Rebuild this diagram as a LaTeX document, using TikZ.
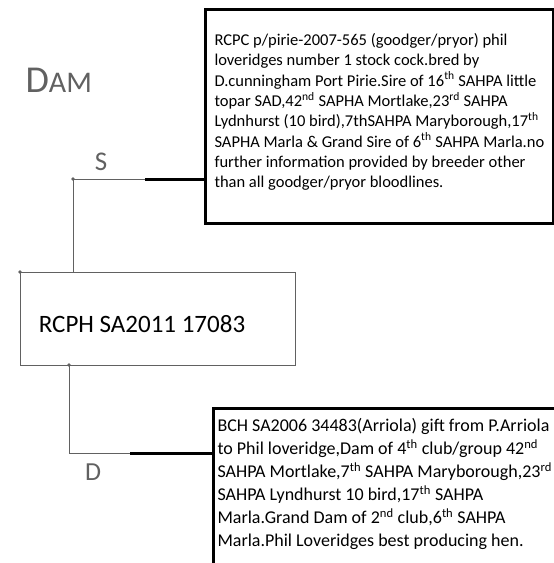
\documentclass[tikz,border=0pt]{standalone}
\usepackage{xcolor}
\usepackage{tikz}
\usepackage{fontspec}
\setmainfont{Carlito}

\definecolor{pencil}{gray}{0.38}

\tikzset{
  infobox/.style={draw, line width=3pt, anchor=north west, align=left, inner xsep=9pt},
  pencilline/.style={draw=pencil, line width=0.9pt},
  inkline/.style={draw=black, line width=3pt},
  hand/.style={text=pencil}
}

\begin{document}
\begin{tikzpicture}[x=1pt, y=-1pt]

% Marco de la pagina
\clip (0,0) rectangle (554,563);

% Titulo a mano
\node[hand, anchor=base west] (title) at (22,92) {{\fontsize{38}{38}\selectfont D}{\fontsize{30}{30}\selectfont AM}};

% Padre
\node[infobox, minimum width=347pt, inner ysep=24pt, text depth=12pt,
      font=\fontsize{16.5}{20.3}\selectfont] (sire) at (204,8)
  {RCPC p/pirie-2007-565 (goodger/pryor) phil\\
   loveridges number 1 stock cock.bred by\\
   D.cunningham Port Pirie.Sire of 16\textsuperscript{th} SAHPA little\\
   topar SAD,42\textsuperscript{nd} SAPHA Mortlake,23\textsuperscript{rd} SAHPA\\
   Lydnhurst (10 bird),7thSAHPA Maryborough,17\textsuperscript{th}\\
   SAPHA Marla \& Grand Sire of 6\textsuperscript{th} SAHPA Marla.no\\
   further information provided by breeder other\\
   than all goodger/pryor bloodlines.};

% Ave
\node[draw=pencil, line width=1pt, anchor=north west, minimum width=275pt, minimum height=93pt,
      text height=28pt, font=\fontsize{25}{30}\selectfont] (bird) at (20,272)
  {RCPH SA2011 17083\rule{32pt}{0pt}};

% Madre
\node[infobox, inner xsep=4pt, inner ysep=10pt, text depth=80pt,
      font=\fontsize{18}{23}\selectfont] (dam) at (212,407)
  {BCH SA2006 34483(Arriola) gift from P.Arriola\\
   to Phil loveridge,Dam of 4\textsuperscript{th} club/group 42\textsuperscript{nd}\\
   SAHPA Mortlake,7\textsuperscript{th} SAHPA Maryborough,23\textsuperscript{rd}\\
   SAHPA Lyndhurst 10 bird,17\textsuperscript{th} SAHPA\\
   Marla.Grand Dam of 2\textsuperscript{nd} club,6\textsuperscript{th} SAHPA\\
   Marla.Phil Loveridges best producing hen.};

% Puntos de union
\coordinate (sdot) at (73,179);
\coordinate (smid) at (145,179);
\coordinate (ddot) at (69,365);
\coordinate (dbend) at (69,453);
\coordinate (dmid) at (130,453);

% Linea del padre
\draw[pencilline] (sdot |- bird.north) -- (sdot) -- (smid);
\draw[inkline] (smid) -- (smid -| sire.west);
\fill[pencil] (sdot) circle (1.8pt);
\node[hand, font=\fontsize{27}{27}\selectfont] (slabel) at (101,162) {S};

% Linea de la madre
\draw[pencilline] (ddot) -- (dbend) -- (dmid);
\draw[inkline] (dmid) -- (dmid -| dam.west);
\fill[pencil] (ddot) circle (1.8pt);
\fill[pencil] (bird.north west) circle (1.8pt);
\node[hand, font=\fontsize{26}{26}\selectfont] (dlabel) at (93,472) {D};

\end{tikzpicture}
\end{document}
